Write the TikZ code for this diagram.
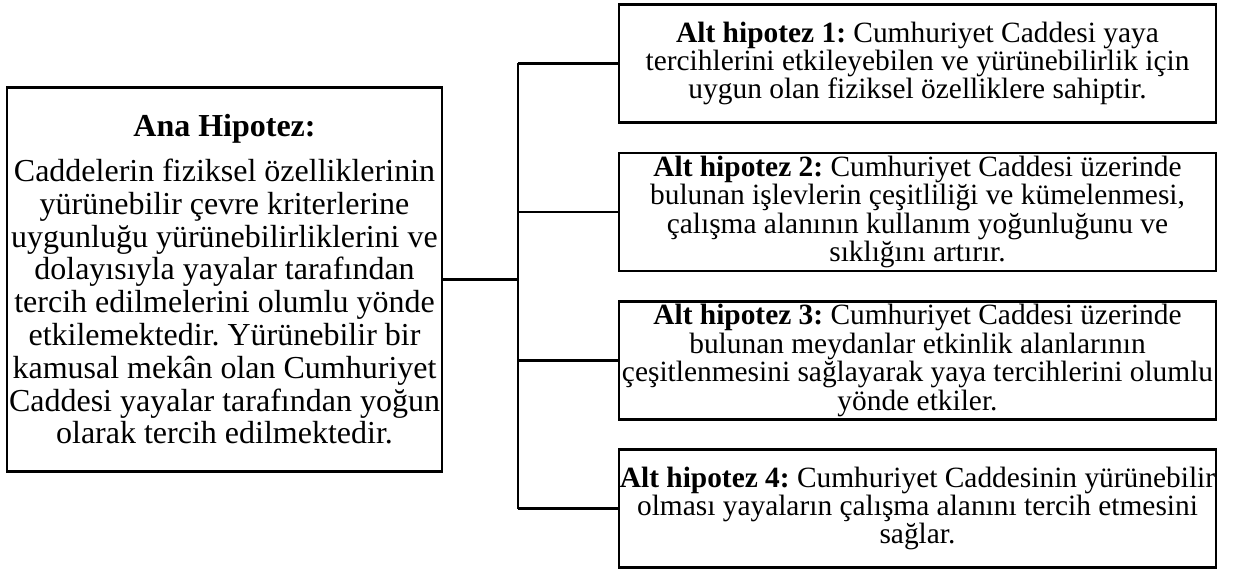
\documentclass[tikz,border=0pt]{standalone}
\usepackage{fontspec}
\setmainfont{Liberation Serif}
\frenchspacing
\begin{document}
\begin{tikzpicture}[x=1pt,y=-1pt,
  box/.style={draw, line width=2.6pt, inner sep=0pt, align=center},
  mainbox/.style={box, minimum width=435pt, minimum height=384pt, font=\fontsize{32}{32.8}\selectfont},
  subbox/.style={box, minimum width=597pt, minimum height=118pt, font=\fontsize{29.4}{28.4}\selectfont},
  link/.style={line width=2.4pt},
  mainlink/.style={line width=3.4pt}]
\useasboundingbox (0,0) rectangle (1234,569);
\fill[white] (0,0) rectangle (1234,569);
\node[mainbox] (main) at (224.5,279.5) {{\bfseries Ana Hipotez:}\\[12pt]
Caddelerin fiziksel özelliklerinin\\
yürünebilir çevre kriterlerine\\
uygunluğu yürünebilirliklerini ve\\
dolayısıyla yayalar tarafından\\
tercih edilmelerini olumlu yönde\\
etkilemektedir. Yürünebilir bir\\
kamusal mekân olan Cumhuriyet\\
Caddesi yayalar tarafından yoğun\\
olarak tercih edilmektedir.};
\node[subbox] (h1) at (917.5,63.5) {\textbf{Alt hipotez 1:} Cumhuriyet Caddesi yaya\\
tercihlerini etkileyebilen ve yürünebilirlik için\\
uygun olan fiziksel özelliklere sahiptir.};
\node[subbox] (h2) at (917.5,212) {\textbf{Alt hipotez 2:} Cumhuriyet Caddesi üzerinde\\
bulunan işlevlerin çeşitliliği ve kümelenmesi,\\
çalışma alanının kullanım yoğunluğunu ve\\
sıklığını artırır.};
\node[subbox] (h3) at (917.5,360.5) {\textbf{Alt hipotez 3:} Cumhuriyet Caddesi üzerinde\\
bulunan meydanlar etkinlik alanlarının\\
çeşitlenmesini sağlayarak yaya tercihlerini olumlu\\
yönde etkiler.};
\node[subbox] (h4) at (917.5,508.5) {\textbf{Alt hipotez 4:} Cumhuriyet Caddesinin yürünebilir\\
olması yayaların çalışma alanını tercih etmesini\\
sağlar.};
\coordinate (j) at (518,279.5);
\draw[mainlink] (main.east) -- (j);
\draw[link] (h1.west -| j) -- (h4.west -| j);
\foreach \h in {h1,h2,h3,h4}{
  \draw[link] (\h.west -| j) -- (\h.west);
}
\end{tikzpicture}
\end{document}
